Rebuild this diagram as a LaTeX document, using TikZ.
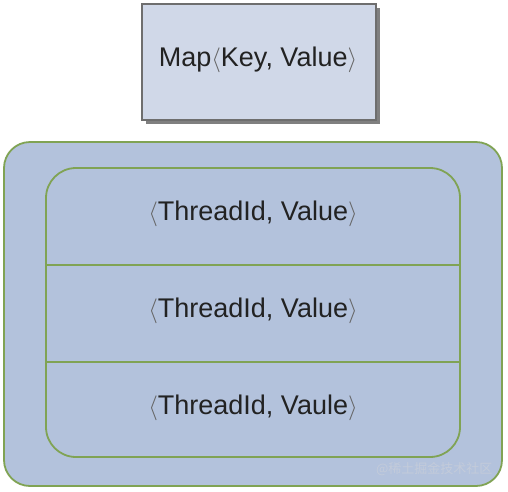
\documentclass[tikz,border=0pt]{standalone}
\usepackage{fontspec}
\setmainfont{Liberation Sans}
\newfontfamily\cjkfont{Noto Sans CJK SC}
\definecolor{mapfill}{RGB}{208,216,232}
\definecolor{mapdraw}{RGB}{110,110,110}
\definecolor{shadowc}{RGB}{128,128,128}
\definecolor{greenc}{RGB}{128,163,84}
\definecolor{bluefill}{RGB}{179,194,220}
\definecolor{textc}{RGB}{34,34,34}
\definecolor{angc}{RGB}{100,100,100}
\definecolor{wmc}{RGB}{195,203,218}
\newcommand{\lang}{{\color{angc}$\langle$}}
\newcommand{\rang}{{\color{angc}$\rangle$}}
\begin{document}
\begin{tikzpicture}[x=1pt,y=-1pt,
  boxfill/.style={fill=mapfill, draw=mapdraw, line width=1.5pt},
  greenline/.style={draw=greenc, line width=1.8pt},
  lbl/.style={font=\fontsize{27}{30}\selectfont, text=textc}]
\useasboundingbox (0,0) rectangle (508,491);
% top box with shadow
\fill[shadowc] (146,8) rectangle (380,124);
\draw[boxfill] (142,4) rectangle (376,120);
\node[lbl] (map) at (258,60) {Map\lang Key, Value\rang};
% outer container
\draw[greenline, fill=bluefill, rounded corners=26pt] (4,142) rectangle (502,486);
% inner container
\draw[greenline, rounded corners=30pt] (46,168) rectangle (460,457);
\coordinate (l1) at (46,265); \coordinate (r1) at (460,265);
\coordinate (l2) at (46,362); \coordinate (r2) at (460,362);
\draw[greenline] (l1) -- (r1);
\draw[greenline] (l2) -- (r2);
\node[lbl] (t1) at (253,214) {\lang ThreadId, Value\rang};
\node[lbl] (t2) at (253,311) {\lang ThreadId, Value\rang};
\node[lbl] (t3) at (253,408) {\lang ThreadId, Vaule\rang};
% watermark
\node[anchor=east, font=\cjkfont\fontsize{13}{15}\selectfont, text=wmc] (wm) at (496,469) {@稀土掘金技术社区};
\end{tikzpicture}
\end{document}
